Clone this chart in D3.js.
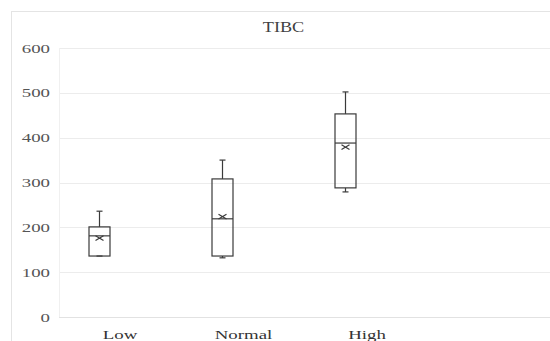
<!DOCTYPE html>
<html><head><meta charset="utf-8">
<script src="https://cdn.jsdelivr.net/npm/d3@7"></script>
<style>body{margin:0;background:#fff;}svg{display:block;}</style>
</head><body>
<script>
const categories = ["Low", "Normal", "High"];
const whiskerMin = [136, 132, 279];
const q1 = [136, 136, 288];
const median = [181, 219, 388];
const q3 = [201, 308, 453];
const whiskerMax = [236, 350, 502];
const means = [176, 224, 379];
const yTicks = [0, 100, 200, 300, 400, 500, 600];
const title = "TIBC";

const W = 550, H = 341;
const svg = d3.select("body").append("svg").attr("width", W).attr("height", H);
const font = "'Liberation Serif', 'Times New Roman', serif";
const stretch = 1.45; // reference image is horizontally stretched

// chart border
svg.append("rect").attr("x", 11.5).attr("y", 11.5).attr("width", W).attr("height", H)
  .attr("fill", "none").attr("stroke", "#e4e4e4");

const y = d3.scaleLinear().domain([0, 600]).range([317, 48]);
const x = d3.scalePoint().domain(categories).range([99, 345]);
const xLab = d3.scalePoint().domain(categories).range([120, 367]);

// gridlines
svg.append("g").selectAll("line").data(yTicks).join("line")
  .attr("x1", 59).attr("x2", W).attr("y1", d => Math.round(y(d)) + 0.5).attr("y2", d => Math.round(y(d)) + 0.5)
  .attr("stroke", d => d === 0 ? "#e2e2e2" : "#ececec").attr("stroke-width", 1);
svg.append("line").attr("x1", 59.5).attr("x2", 59.5).attr("y1", y(600)).attr("y2", y(0))
  .attr("stroke", "#f0f0f0");

// y axis labels
const yAxis = d3.axisLeft(y).tickValues(yTicks).tickSize(0).tickPadding(0);
const ga = svg.append("g").attr("transform", "translate(50,0)").call(yAxis);
ga.select(".domain").remove();
ga.selectAll("text").attr("font-family", font).attr("font-size", 13).attr("fill", "#555")
  .attr("x", 0).attr("transform", `scale(${stretch},1)`);

// title
svg.append("text").attr("transform", `translate(283.5,32) scale(1.3,1)`).attr("text-anchor", "middle")
  .attr("font-family", font).attr("font-size", 14).attr("fill", "#404040").text(title);

// category labels
svg.append("g").selectAll("text").data(categories).join("text")
  .attr("transform", d => `translate(${xLab(d)},339) scale(${stretch},1)`).attr("text-anchor", "middle")
  .attr("font-family", font).attr("font-size", 13).attr("fill", "#333").text(d => d);

const bw = 21, cap = 6;
const data = categories.map((c, i) => ({c, lo: whiskerMin[i], q1: q1[i], med: median[i], q3: q3[i], hi: whiskerMax[i], mean: means[i]}));
const g = svg.append("g").attr("stroke", "#3a3a3a").attr("stroke-width", 1.2).attr("fill", "none");
data.forEach(d => {
  const cx = Math.round(x(d.c)) + 0.5;
  g.append("line").attr("x1", cx).attr("x2", cx).attr("y1", y(d.q3)).attr("y2", y(d.hi));
  g.append("line").attr("x1", cx - cap/2).attr("x2", cx + cap/2).attr("y1", y(d.hi)).attr("y2", y(d.hi));
  g.append("line").attr("x1", cx).attr("x2", cx).attr("y1", y(d.q1)).attr("y2", y(d.lo));
  g.append("line").attr("x1", cx - cap/2).attr("x2", cx + cap/2).attr("y1", y(d.lo)).attr("y2", y(d.lo));
  g.append("rect").attr("x", cx - bw/2).attr("width", bw).attr("y", y(d.q3)).attr("height", y(d.q1) - y(d.q3));
  g.append("line").attr("x1", cx - bw/2).attr("x2", cx + bw/2).attr("y1", y(d.med)).attr("y2", y(d.med));
  const my = y(d.mean), s = 4;
  g.append("path").attr("d", `M${cx-s},${my-s*0.6}L${cx+s},${my+s*0.6}M${cx-s},${my+s*0.6}L${cx+s},${my-s*0.6}`);
});
</script>
</body></html>
